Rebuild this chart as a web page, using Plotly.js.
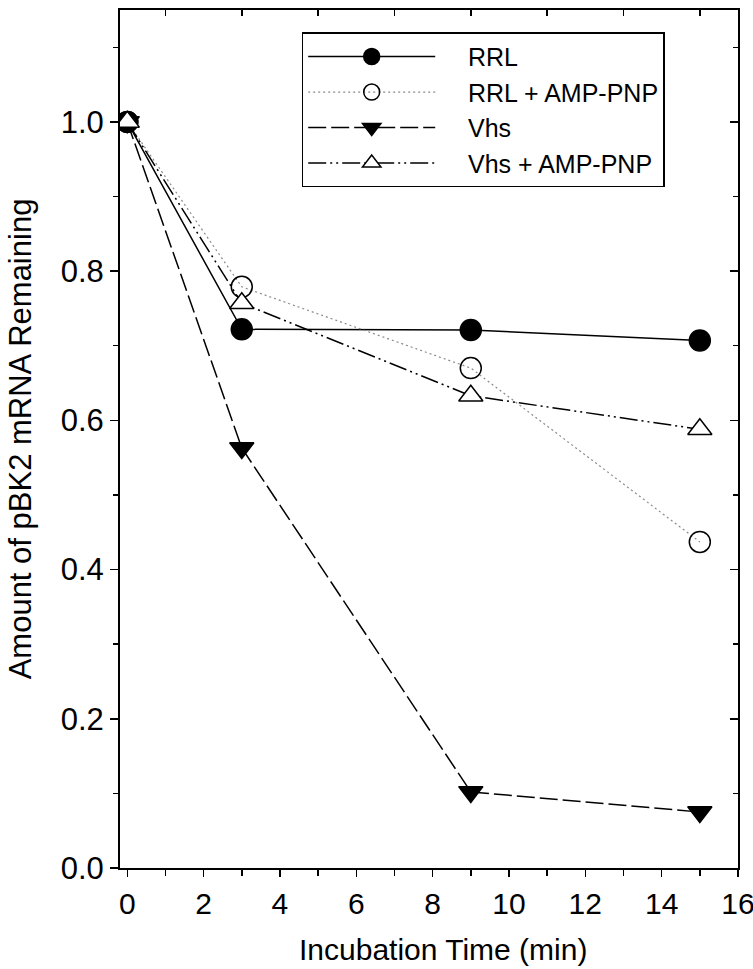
<!DOCTYPE html>
<html>
<head>
<meta charset="utf-8">
<script src="https://cdn.plot.ly/plotly-3.0.1.min.js"></script>
<style>html,body{margin:0;padding:0;background:#fff;}#chart{width:753px;height:969px;}</style>
</head>
<body>
<div id="chart"></div>
<script>
// Data
const timeMin = [0, 3, 9, 15];
const seriesNames = ["RRL", "RRL + AMP-PNP", "Vhs", "Vhs + AMP-PNP"];
const rrl = [1.0, 0.722, 0.721, 0.707];
const rrlAmp = [1.0, 0.779, 0.670, 0.437];
const vhs = [1.0, 0.563, 0.102, 0.075];
const vhsAmp = [1.0, 0.757, 0.633, 0.588];
const xTitle = "Incubation Time (min)";
const yTitle = "Amount of pBK2 mRNA Remaining";

const FONT = "Liberation Sans, Arial, sans-serif";
const lw = 1.5;
const pad = "\u00a0\u00a0\u00a0\u00a0";

const traces = [
  {x: timeMin, y: rrl, name: pad + seriesNames[0], mode: "lines+markers",
   line: {color: "black", width: lw, dash: "solid"},
   marker: {symbol: "circle", size: 21, color: "black", line: {color: "black", width: 1.5}}},
  {x: timeMin, y: rrlAmp, name: pad + seriesNames[1], mode: "lines+markers",
   line: {color: "#8a8a8a", width: 1.2, dash: "2px,3px"},
   marker: {symbol: "circle-open", size: 21, color: "black", line: {color: "black", width: 1.5}}},
  {x: timeMin, y: vhs, name: pad + seriesNames[2], mode: "lines+markers",
   line: {color: "black", width: lw, dash: "18px,5px"},
   marker: {symbol: "triangle-down", size: 21, color: "black", line: {color: "black", width: 1.5}}},
  {x: timeMin, y: vhsAmp, name: pad + seriesNames[3], mode: "lines+markers",
   line: {color: "black", width: lw, dash: "18px,4px,2px,4px,2px,4px"},
   marker: {symbol: "triangle-up", size: 21, color: "white", line: {color: "black", width: 1.5}}},
  {x: [], y: [], xaxis: "x2", yaxis: "y2", showlegend: false, hoverinfo: "skip"}
];

const layout = {
  width: 753, height: 969,
  margin: {l: 120, r: 14.5, t: 10, b: 101},
  paper_bgcolor: "white", plot_bgcolor: "white",
  font: {family: FONT, size: 24, color: "black"},
  showlegend: true,
  legend: {
    x: 0.294, y: 0.974, xanchor: "left", yanchor: "top",
    bgcolor: "white", bordercolor: "black", borderwidth: 1.5,
    font: {family: FONT, size: 25, color: "black"},
    itemwidth: 127, tracegroupgap: 0
  },
  xaxis: {
    range: [-0.19, 16], tick0: 0, dtick: 2, ticks: "outside", ticklen: 7, tickwidth: 1.5,
    tickcolor: "black", showline: true, linecolor: "black", linewidth: 2, mirror: true,
    showgrid: false, zeroline: false, ticklabelstandoff: 1, ticklabeloverflow: "allow",
    tickfont: {family: FONT, size: 30, color: "black"},
    minor: {dtick: 1, ticks: "outside", ticklen: 6, tickwidth: 1.5, tickcolor: "black", showgrid: false}
  },
  yaxis: {
    range: [0, 1.15], tick0: 0, dtick: 0.2, tickformat: ".1f", ticks: "outside", ticklen: 8, tickwidth: 1.5,
    tickcolor: "black", showline: true, linecolor: "black", linewidth: 2, mirror: true,
    showgrid: false, zeroline: false, ticklabeloverflow: "allow",
    tickfont: {family: FONT, size: 31, color: "black"},
    minor: {dtick: 0.1, ticks: "outside", ticklen: 5, tickwidth: 1.5, tickcolor: "black", showgrid: false},
    title: {text: yTitle, font: {family: FONT, size: 31, color: "black"}, standoff: 20}
  },
  xaxis2: {
    overlaying: "x", side: "top", range: [-0.19, 16], tickmode: "array",
    tickvals: [1, 3, 5, 7, 9, 11, 13, 15], ticks: "inside", ticklen: 6, tickwidth: 1.5,
    tickcolor: "black", showticklabels: false, showgrid: false, zeroline: false, showline: false
  },
  yaxis2: {
    overlaying: "y", side: "right", range: [0, 1.15], tick0: 0, dtick: 0.2, ticks: "inside",
    ticklen: 8, tickwidth: 1.5, tickcolor: "black", showticklabels: false, showgrid: false,
    zeroline: false, showline: false,
    minor: {dtick: 0.1, ticks: "inside", ticklen: 5, tickwidth: 1.5, tickcolor: "black", showgrid: false}
  },
  annotations: [
    {text: xTitle, xref: "paper", yref: "paper", x: 0.522, y: -0.095, xanchor: "center", yanchor: "middle",
     showarrow: false, font: {family: FONT, size: 30, color: "black"}}
  ]
};

Plotly.newPlot("chart", traces, layout, {displayModeBar: false, staticPlot: true});
</script>
</body>
</html>
